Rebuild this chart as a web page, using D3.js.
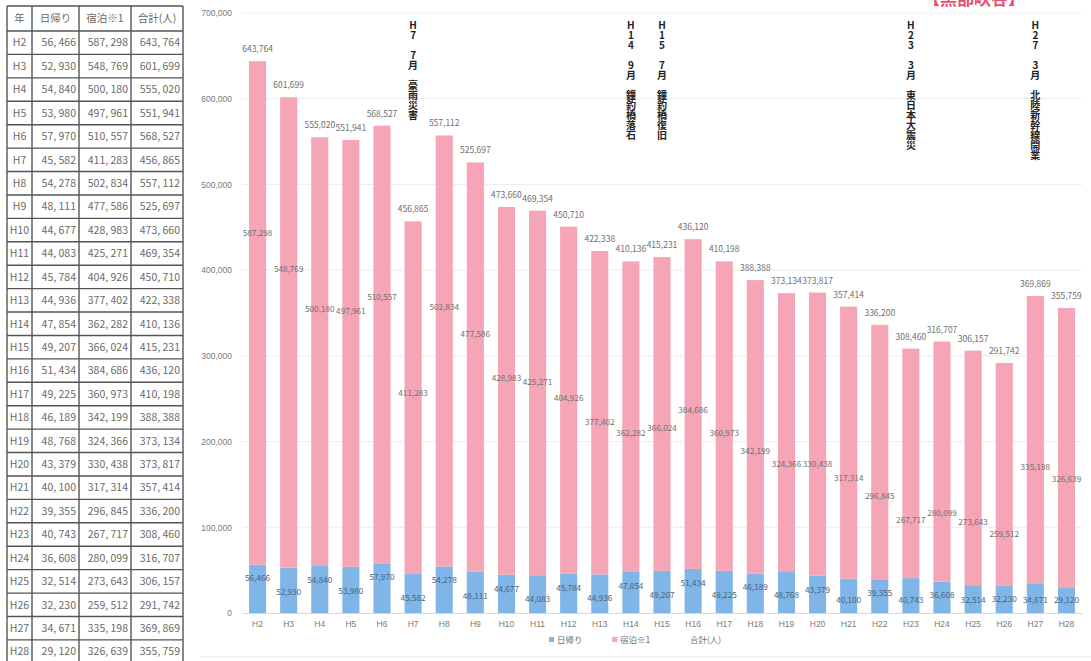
<!DOCTYPE html>
<html lang="ja">
<head>
<meta charset="utf-8">
<title>日帰り・宿泊 入込数の推移</title>
<script src="https://d3js.org/d3.v7.min.js"></script>
<style>
  body { margin: 0; background: #fff; }
  svg { display: block; font-family: "Noto Sans CJK JP", "Noto Sans", sans-serif; }
  .note { writing-mode: vertical-rl; text-orientation: upright; }
</style>
</head>
<body>
<script>
// values (table on the left matches the bars)
var years = ["H2","H3","H4","H5","H6","H7","H8","H9","H10","H11","H12","H13","H14","H15",
             "H16","H17","H18","H19","H20","H21","H22","H23","H24","H25","H26","H27","H28"];
var dayTrip = [56466, 52930, 54840, 53980, 57970, 45582, 54278, 48111, 44677, 44083, 45784, 44936, 47854, 49207,
               51434, 49225, 46189, 48768, 43379, 40100, 39355, 40743, 36608, 32514, 32230, 34671, 29120];
var overnight = [587298, 548769, 500180, 497961, 510557, 411283, 502834, 477586, 428983, 425271, 404926, 377402, 362282, 366024,
                 384686, 360973, 342199, 324366, 330438, 317314, 296845, 267717, 280099, 273643, 259512, 335198, 326639];
var totals = [643764, 601699, 555020, 551941, 568527, 456865, 557112, 525697, 473660, 469354, 450710, 422338, 410136, 415231,
              436120, 410198, 388388, 373134, 373817, 357414, 336200, 308460, 316707, 306157, 291742, 369869, 355759];
var yTicks = [0, 100000, 200000, 300000, 400000, 500000, 600000, 700000];
var tableHeaders = ["年", "日帰り", "宿泊※1", "合計(人)"];
var legendLabels = ["日帰り", "宿泊※1", "合計(人)"];

// event notes written vertically above the bars
var noteYears = ["H7", "H14", "H15", "H23", "H27"];
var noteMonths = ["7月", "9月", "7月", "3月", "3月"];
var noteEvents = ["豪雨災害", "鐘釣橋落石", "鐘釣橋復旧", "東日本大震災", "北陸新幹線開業"];

var w = 1091, h = 661;
var blue = "#7fb6e7", pink = "#f5a5b6";

var svg = d3.select("body").append("svg")
  .attr("width", w)
  .attr("height", h);

svg.append("rect").attr("width", w).attr("height", h).attr("fill", "#fff");

//---------------- table ----------------
var colEdges = [7, 32, 79, 131, 183];
var headTop = 6, headH = 25, rowH = 23.42;
var fmtTable = function(v) { return d3.format(",")(v).replace(",", ", "); };

var rows = years.map(function(y, i) {
  return [y, fmtTable(dayTrip[i]), fmtTable(overnight[i]), fmtTable(totals[i])];
});

var table = svg.append("g").attr("class", "table");

table.selectAll("text.head")
  .data(tableHeaders)
  .enter().append("text")
  .attr("class", "head")
  .attr("x", function(d, i) { return (colEdges[i] + colEdges[i + 1]) / 2; })
  .attr("y", headTop + headH / 2)
  .attr("dy", "0.36em")
  .attr("text-anchor", "middle")
  .attr("font-size", 10.5)
  .attr("fill", "#6a6a6a")
  .text(function(d) { return d; });

var rowG = table.selectAll("g.row")
  .data(rows)
  .enter().append("g")
  .attr("class", "row")
  .attr("transform", function(d, i) { return "translate(0," + (headTop + headH + i * rowH) + ")"; });

rowG.selectAll("text")
  .data(function(d) { return d; })
  .enter().append("text")
  .attr("x", function(d, i) { return i == 0 ? (colEdges[0] + colEdges[1]) / 2 : colEdges[i + 1] - 3; })
  .attr("y", rowH / 2)
  .attr("dy", "0.36em")
  .attr("text-anchor", function(d, i) { return i == 0 ? "middle" : "end"; })
  .attr("font-size", 10.5)
  .attr("fill", "#6a6a6a")
  .text(function(d) { return d; });

// grid of the table
var rowLines = d3.range(years.length + 1).map(function(i) { return headTop + headH + i * rowH; });
rowLines.unshift(headTop);
table.selectAll("line.h")
  .data(rowLines)
  .enter().append("line")
  .attr("x1", colEdges[0]).attr("x2", colEdges[colEdges.length - 1])
  .attr("y1", function(d) { return d; }).attr("y2", function(d) { return d; })
  .attr("stroke", "#555").attr("stroke-width", 1.4);
table.selectAll("line.v")
  .data(colEdges)
  .enter().append("line")
  .attr("x1", function(d) { return d; }).attr("x2", function(d) { return d; })
  .attr("y1", headTop).attr("y2", h)
  .attr("stroke", "#555").attr("stroke-width", 1.4);

//---------------- chart ----------------
var x = d3.scaleBand()
  .domain(years)
  .range([242, 1082])
  .paddingInner(0.45)
  .paddingOuter(0.225);

var y = d3.scaleLinear()
  .domain([0, 700000])
  .range([613, 13]);

// gridlines
svg.append("g").selectAll("line")
  .data(yTicks.slice(1))
  .enter().append("line")
  .attr("x1", 242).attr("x2", 1082)
  .attr("y1", function(d) { return y(d); }).attr("y2", function(d) { return y(d); })
  .attr("stroke", "#ededed");

// y axis
var yAxis = svg.append("g")
  .attr("transform", "translate(234,0)")
  .call(d3.axisLeft(y).tickValues(yTicks).tickSize(0).tickPadding(2).tickFormat(d3.format(",")));
yAxis.select(".domain").remove();
yAxis.selectAll("text").attr("font-size", 8.5).attr("fill", "#7a7a7a").style("font-family", "inherit");

// stacked bars
var bars = svg.append("g").selectAll("g")
  .data(years)
  .enter().append("g");

bars.append("rect")
  .attr("x", function(d) { return x(d); })
  .attr("width", x.bandwidth())
  .attr("y", function(d, i) { return y(dayTrip[i]); })
  .attr("height", function(d, i) { return y(0) - y(dayTrip[i]); })
  .attr("fill", blue);

bars.append("rect")
  .attr("x", function(d) { return x(d); })
  .attr("width", x.bandwidth())
  .attr("y", function(d, i) { return y(dayTrip[i] + overnight[i]); })
  .attr("height", function(d, i) { return y(dayTrip[i]) - y(dayTrip[i] + overnight[i]); })
  .attr("fill", pink);

// x axis
var xAxis = svg.append("g")
  .attr("transform", "translate(0,613)")
  .call(d3.axisBottom(x).tickSize(0).tickPadding(8));
xAxis.select(".domain").attr("stroke", "#d9d9d9");
xAxis.selectAll("text").attr("font-size", 8.5).attr("fill", "#7a7a7a").style("font-family", "inherit");

var fmt = d3.format(",");
var cx = function(d) { return x(d) + x.bandwidth() / 2; };

// total labels above bars
bars.append("text")
  .attr("x", cx)
  .attr("y", function(d, i) { return y(totals[i]) - 12; })
  .attr("dy", "0.35em")
  .attr("text-anchor", "middle")
  .attr("font-size", 8.5)
  .attr("fill", "#6f6f6f")
  .text(function(d, i) { return fmt(totals[i]); });

// overnight labels inside the pink part
bars.append("text")
  .attr("x", cx)
  .attr("y", function(d, i) { return y(totals[i] - 200000); })
  .attr("dy", "0.35em")
  .attr("text-anchor", "middle")
  .attr("font-size", 8.2)
  .attr("fill", "#6f6f6f")
  .text(function(d, i) { return fmt(overnight[i]); });

// day-trip labels, staggered
bars.append("text")
  .attr("x", cx)
  .attr("y", function(d, i) { return Math.min(y(dayTrip[i]) + (i % 2 ? 24 : 14), 600); })
  .attr("dy", "0.35em")
  .attr("text-anchor", "middle")
  .attr("font-size", 8.2)
  .attr("fill", "#4f5f78")
  .text(function(d, i) { return fmt(dayTrip[i]); });

// vertical event notes, one text each
svg.append("g").selectAll("text")
  .data(noteYears)
  .enter().append("text")
  .attr("class", "note")
  .attr("x", cx)
  .attr("y", 20)
  .attr("font-size", 10)
  .attr("font-weight", "bold")
  .attr("fill", "#222")
  .text(function(d, i) { return d + "　" + noteMonths[i] + " " + noteEvents[i]; });

// red heading cut off at the top edge
svg.append("text")
  .attr("x", 974).attr("y", 5)
  .attr("text-anchor", "middle")
  .attr("font-size", 17)
  .attr("font-weight", "bold")
  .attr("fill", "#e8506e")
  .text("【黒部峡谷】");

// legend
var legendX = [549, 612, 690];
var legendColors = [blue, pink, null];
var legend = svg.append("g").selectAll("g")
  .data(legendLabels)
  .enter().append("g")
  .attr("transform", function(d, i) { return "translate(" + legendX[i] + ",640)"; });

legend.filter(function(d, i) { return legendColors[i]; })
  .append("rect")
  .attr("x", 0).attr("y", -3)
  .attr("width", 5).attr("height", 5)
  .attr("fill", function(d, i) { return legendColors[i]; });

legend.append("text")
  .attr("x", function(d, i) { return legendColors[i] ? 8 : 0; })
  .attr("dy", "0.35em")
  .attr("font-size", 8.5)
  .attr("fill", "#6f6f6f")
  .text(function(d) { return d; });

// faint frame line of the chart
svg.append("line")
  .attr("x1", 200).attr("x2", 1091)
  .attr("y1", 657).attr("y2", 657)
  .attr("stroke", "#e6e6e6");
</script>
</body>
</html>
